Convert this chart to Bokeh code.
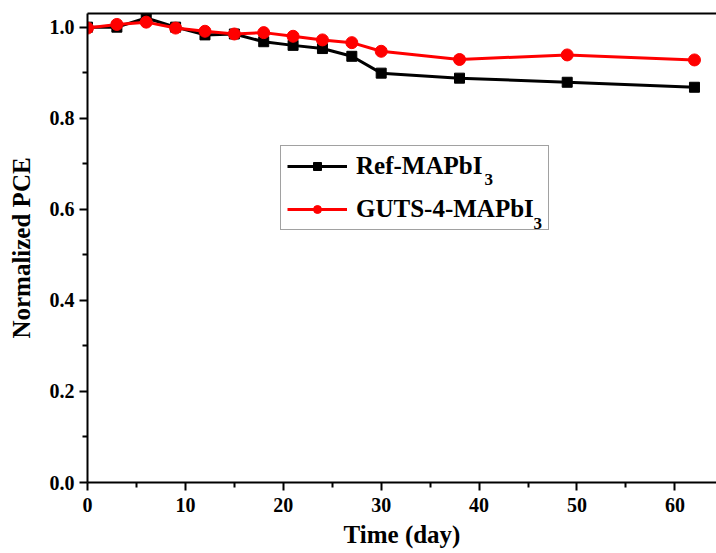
from bokeh.plotting import figure
from bokeh.models import FixedTicker, Legend, LegendItem, Range1d, PrintfTickFormatter, LinearAxis, Label
from bokeh.embed import file_html
from bokeh.resources import INLINE

days = [0, 3, 6, 9, 12, 15, 18, 21, 24, 27, 30, 38, 49, 62]
ref_pce = [1.0, 1.0, 1.02, 1.0, 0.983, 0.985, 0.968, 0.960, 0.953, 0.936, 0.899, 0.888, 0.879, 0.868]
guts_pce = [0.998, 1.006, 1.011, 0.998, 0.991, 0.985, 0.988, 0.980, 0.972, 0.966, 0.947, 0.929, 0.939, 0.928]
x_ticks = [0, 10, 20, 30, 40, 50, 60]
y_ticks = [0.0, 0.2, 0.4, 0.6, 0.8, 1.0]
ref_label = "Ref-MAPbI"
guts_label = "GUTS-4-MAPbI"
subscript = "3"

FONT = "Liberation Serif"

p = figure(width=716, height=553, output_backend="svg", toolbar_location=None,
           x_range=Range1d(0, 64.25), y_range=Range1d(0, 1.03),
           min_border_left=87, min_border_top=13, min_border_bottom=71, min_border_right=0)
p.grid.visible = False
p.outline_line_color = None
p.background_fill_color = "white"
p.border_fill_color = "white"

xa = p.below[0]
ya = p.left[0]
for ax in (xa, ya):
    ax.axis_line_width = 2
    ax.major_tick_line_width = 2
    ax.minor_tick_line_width = 2
    ax.major_tick_out = 8
    ax.major_tick_in = 0
    ax.minor_tick_out = 5
    ax.minor_tick_in = 0
    ax.major_label_text_font = FONT
    ax.major_label_text_font_style = "bold"
    ax.major_label_text_font_size = "20px"
    ax.major_label_text_color = "black"
    ax.axis_label_text_font = FONT
    ax.axis_label_text_font_style = "bold"
    ax.axis_label_text_font_size = "25px"
    ax.axis_label_text_color = "black"

xa.ticker = FixedTicker(ticks=x_ticks, minor_ticks=[5, 15, 25, 35, 45, 55])
ya.ticker = FixedTicker(ticks=y_ticks, minor_ticks=[0.1, 0.3, 0.5, 0.7, 0.9])
ya.formatter = PrintfTickFormatter(format="%.1f")
xa.axis_label = "Time (day)"
ya.axis_label = "Normalized PCE"
xa.major_label_standoff = 7
ya.major_label_standoff = 5
xa.axis_label_standoff = 6
ya.axis_label_standoff = 12

top = LinearAxis(ticker=FixedTicker(ticks=[]), major_tick_line_color=None,
                 minor_tick_line_color=None, major_label_standoff=0,
                 axis_line_width=2, axis_line_color="black")
p.add_layout(top, "above")

r1l = p.line(days, ref_pce, line_color="black", line_width=3)
r1m = p.scatter(days, ref_pce, marker="square", size=10, fill_color="black", line_color="black")
r2l = p.line(days, guts_pce, line_color="red", line_width=3)
r2m = p.scatter(days, guts_pce, marker="circle", size=12, fill_color="red", line_color="red")

for lx, ly in [(40.55, 0.6655), (45.56, 0.5689)]:
    p.add_layout(Label(x=lx, y=ly, text=subscript, text_font=FONT, text_font_style="bold",
                       text_font_size="17px", text_baseline="alphabetic", text_align="left",
                       text_color="black"))

legend = Legend(items=[LegendItem(label=ref_label, renderers=[r1l, r1m]),
                       LegendItem(label=guts_label, renderers=[r2l, r2m])],
                location=(193, 252))
legend.label_text_font = FONT
legend.label_text_font_style = "bold"
legend.label_text_font_size = "25px"
legend.label_text_color = "black"
legend.glyph_width = 60
legend.glyph_height = 20
legend.label_standoff = 9
legend.label_width = 186
legend.spacing = 15
legend.padding = 6
legend.margin = 0
legend.border_line_color = "#444444"
legend.border_line_width = 1.5
legend.background_fill_alpha = 0
p.add_layout(legend, "center")

open("out.html", "w").write(file_html(p, INLINE))
